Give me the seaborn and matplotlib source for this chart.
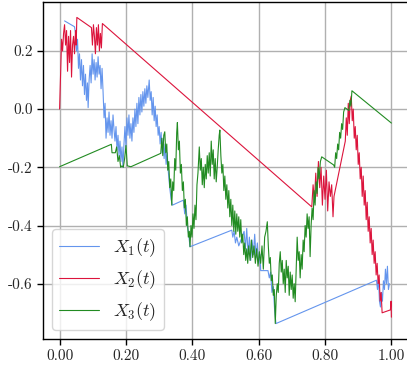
import matplotlib
matplotlib.use("Agg")
import matplotlib.pyplot as plt
from matplotlib.ticker import FormatStrFormatter, MultipleLocator
import pandas as pd
import seaborn as sns

# X_1(t): values (gaps are bridged by straight lines)
t1 = [0.015, 0.045, 0.048, 0.051, 0.054, 0.057, 0.060, 0.063, 0.066, 0.069, 0.072, 0.075,
      0.078, 0.081, 0.084, 0.086, 0.089, 0.092, 0.095, 0.098, 0.101, 0.104, 0.107, 0.110,
      0.113, 0.116, 0.119, 0.122, 0.125, 0.128, 0.131, 0.134, 0.137, 0.140, 0.143, 0.146,
      0.149, 0.152, 0.155, 0.158, 0.161, 0.164, 0.167, 0.170, 0.173, 0.176, 0.179, 0.182,
      0.185, 0.188, 0.191, 0.194, 0.197, 0.200, 0.203, 0.206, 0.209, 0.212, 0.215, 0.218,
      0.221, 0.224, 0.227, 0.230, 0.233, 0.236, 0.239, 0.242, 0.245, 0.248, 0.251, 0.254,
      0.257, 0.260, 0.263, 0.266, 0.270, 0.273, 0.276, 0.279, 0.282, 0.285, 0.288, 0.291,
      0.294, 0.297, 0.300, 0.303, 0.306, 0.309, 0.312, 0.315, 0.318, 0.321, 0.324, 0.328,
      0.332, 0.336, 0.340, 0.373, 0.377, 0.381, 0.385, 0.389, 0.393, 0.519, 0.522, 0.526,
      0.530, 0.534, 0.540, 0.556, 0.560, 0.564, 0.568, 0.572, 0.576, 0.580, 0.584, 0.588,
      0.592, 0.596, 0.600, 0.604, 0.606, 0.628, 0.632, 0.636, 0.640, 0.644, 0.648, 0.652,
      0.955, 0.958, 0.961, 0.964, 0.967, 0.970, 0.973, 0.976, 0.979, 0.982, 0.985, 0.988,
      0.991, 0.994]
x1 = [0.303, 0.283, 0.26, 0.20, 0.24, 0.14, 0.19, 0.10, 0.17, 0.08, 0.15, 0.05,
      0.12, 0.03, 0.09, 0.005, 0.10, 0.15, 0.09, 0.19, 0.12, 0.17, 0.10, 0.16,
      0.11, 0.18, 0.12, 0.15, 0.07, 0.14, 0.06, -0.03, 0.02, -0.10, -0.03, -0.08,
      -0.01, -0.09, -0.04, -0.10, -0.02, -0.07, -0.11, -0.06, -0.14, -0.09, -0.16, -0.11,
      -0.18, -0.13, -0.20, -0.12, -0.06, -0.13, -0.03, -0.09, -0.02, -0.10, -0.05, -0.11,
      -0.03, -0.08, 0.00, -0.06, 0.02, -0.05, 0.04, -0.02, 0.05, -0.01, 0.06, 0.01,
      0.07, 0.02, 0.08, 0.04, 0.10, 0.03, 0.06, -0.02, 0.04, -0.04, 0.01, -0.06,
      -0.02, -0.09, -0.06, -0.12, -0.08, -0.15, -0.10, -0.17, -0.12, -0.19, -0.15, -0.22,
      -0.27, -0.31, -0.33, -0.313, -0.36, -0.33, -0.40, -0.43, -0.473, -0.416, -0.44, -0.42,
      -0.46, -0.44, -0.47, -0.42, -0.48, -0.41, -0.50, -0.44, -0.52, -0.45, -0.50, -0.43,
      -0.51, -0.46, -0.53, -0.50, -0.555, -0.555, -0.58, -0.56, -0.63, -0.61, -0.69, -0.737,
      -0.588, -0.62, -0.58, -0.66, -0.68, -0.63, -0.66, -0.59, -0.62, -0.55, -0.60, -0.54,
      -0.62, -0.60]

# X_2(t)
t2 = [0.000, 0.003, 0.006, 0.009, 0.012, 0.015, 0.018, 0.021, 0.024, 0.027, 0.030, 0.033,
      0.036, 0.039, 0.042, 0.045, 0.048, 0.050, 0.052, 0.096, 0.099, 0.102, 0.105, 0.108,
      0.111, 0.114, 0.117, 0.120, 0.123, 0.126, 0.129, 0.760, 0.764, 0.768, 0.772, 0.776,
      0.780, 0.784, 0.788, 0.792, 0.796, 0.800, 0.804, 0.808, 0.812, 0.816, 0.820, 0.824,
      0.827, 0.861, 0.864, 0.867, 0.870, 0.873, 0.876, 0.879, 0.882, 0.885, 0.888, 0.891,
      0.894, 0.897, 0.900, 0.903, 0.906, 0.909, 0.912, 0.915, 0.918, 0.921, 0.924, 0.927,
      0.930, 0.933, 0.936, 0.939, 0.942, 0.945, 0.948, 0.951, 0.954, 0.957, 0.960, 0.963,
      0.966, 0.969, 0.972, 0.997, 0.999, 1.000]
x2 = [0.00, 0.12, 0.24, 0.20, 0.26, 0.29, 0.22, 0.27, 0.13, 0.25, 0.16, 0.27,
      0.11, 0.22, 0.25, 0.19, 0.27, 0.22, 0.315, 0.28, 0.22, 0.29, 0.25, 0.19,
      0.28, 0.22, 0.29, 0.20, 0.26, 0.21, 0.294, -0.336, -0.26, -0.32, -0.22, -0.30,
      -0.18, -0.27, -0.20, -0.33, -0.23, -0.31, -0.21, -0.35, -0.25, -0.30, -0.26, -0.37,
      -0.30, -0.11, -0.03, -0.09, 0.02, -0.05, 0.03, 0.045, -0.04, 0.00, -0.10, -0.06,
      -0.14, -0.09, -0.19, -0.15, -0.24, -0.20, -0.30, -0.23, -0.33, -0.28, -0.38, -0.32,
      -0.42, -0.37, -0.46, -0.41, -0.50, -0.45, -0.53, -0.49, -0.57, -0.53, -0.60, -0.57,
      -0.66, -0.63, -0.70, -0.69, -0.66, -0.715]

# X_3(t)
t3 = [0.000, 0.156, 0.158, 0.168, 0.172, 0.176, 0.180, 0.184, 0.188, 0.192, 0.196, 0.200,
      0.204, 0.215, 0.305, 0.308, 0.311, 0.314, 0.317, 0.320, 0.323, 0.326, 0.329, 0.332,
      0.335, 0.338, 0.341, 0.344, 0.347, 0.350, 0.353, 0.355, 0.358, 0.361, 0.364, 0.367,
      0.370, 0.373, 0.376, 0.379, 0.382, 0.385, 0.388, 0.391, 0.393, 0.396, 0.399, 0.402,
      0.405, 0.408, 0.411, 0.414, 0.417, 0.421, 0.424, 0.427, 0.430, 0.433, 0.436, 0.439,
      0.442, 0.445, 0.448, 0.451, 0.454, 0.457, 0.460, 0.463, 0.466, 0.469, 0.472, 0.475,
      0.478, 0.481, 0.483, 0.486, 0.489, 0.492, 0.495, 0.498, 0.501, 0.504, 0.507, 0.510,
      0.513, 0.516, 0.519, 0.522, 0.525, 0.528, 0.531, 0.534, 0.537, 0.540, 0.543, 0.546,
      0.549, 0.552, 0.555, 0.558, 0.561, 0.564, 0.567, 0.570, 0.574, 0.578, 0.582, 0.586,
      0.590, 0.594, 0.598, 0.602, 0.606, 0.610, 0.614, 0.618, 0.622, 0.626, 0.629, 0.632,
      0.635, 0.638, 0.641, 0.644, 0.647, 0.650, 0.653, 0.656, 0.659, 0.662, 0.665, 0.668,
      0.671, 0.674, 0.677, 0.680, 0.683, 0.686, 0.689, 0.692, 0.695, 0.698, 0.701, 0.704,
      0.707, 0.710, 0.713, 0.716, 0.719, 0.722, 0.725, 0.728, 0.731, 0.734, 0.737, 0.740,
      0.743, 0.746, 0.749, 0.752, 0.755, 0.758, 0.761, 0.764, 0.767, 0.770, 0.773, 0.776,
      0.779, 0.782, 0.786, 0.790, 0.826, 0.829, 0.832, 0.835, 0.838, 0.841, 0.844, 0.847,
      0.850, 0.853, 0.856, 0.860, 0.872, 0.875, 0.878, 0.881, 1.000]
x3 = [-0.198, -0.121, -0.150, -0.150, -0.13, -0.18, -0.16, -0.20, -0.195, -0.20, -0.17, -0.125,
      -0.195, -0.198, -0.152, -0.10, -0.16, -0.09, -0.078, -0.15, -0.12, -0.21, -0.18, -0.27,
      -0.24, -0.33, -0.25, -0.28, -0.17, -0.21, -0.08, -0.046, -0.14, -0.11, -0.22, -0.19,
      -0.28, -0.25, -0.34, -0.31, -0.40, -0.37, -0.44, -0.42, -0.473, -0.40, -0.44, -0.36,
      -0.41, -0.33, -0.38, -0.26, -0.22, -0.13, -0.21, -0.17, -0.26, -0.20, -0.27, -0.19,
      -0.24, -0.16, -0.22, -0.15, -0.23, -0.11, -0.19, -0.14, -0.24, -0.17, -0.25, -0.20,
      -0.14, -0.09, -0.072, -0.16, -0.22, -0.19, -0.28, -0.23, -0.31, -0.26, -0.34, -0.28,
      -0.37, -0.31, -0.40, -0.33, -0.42, -0.35, -0.43, -0.36, -0.42, -0.37, -0.44, -0.38,
      -0.46, -0.43, -0.50, -0.46, -0.52, -0.48, -0.53, -0.47, -0.52, -0.45, -0.51, -0.47,
      -0.53, -0.48, -0.54, -0.49, -0.53, -0.47, -0.55, -0.44, -0.42, -0.387, -0.47, -0.53,
      -0.51, -0.59, -0.57, -0.64, -0.62, -0.737, -0.64, -0.60, -0.63, -0.53, -0.49, -0.56,
      -0.52, -0.60, -0.55, -0.63, -0.52, -0.58, -0.54, -0.64, -0.56, -0.62, -0.57, -0.65,
      -0.60, -0.662, -0.55, -0.44, -0.52, -0.49, -0.58, -0.50, -0.55, -0.45, -0.49, -0.40,
      -0.44, -0.36, -0.41, -0.37, -0.507, -0.40, -0.34, -0.38, -0.28, -0.33, -0.25, -0.29,
      -0.20, -0.24, -0.18, -0.164, -0.192, -0.20, -0.15, -0.17, -0.12, -0.14, -0.08, -0.10,
      -0.05, -0.07, -0.01, 0.005, -0.005, 0.03, 0.01, 0.063, -0.048]

labels = ["$X_1(t)$", "$X_2(t)$", "$X_3(t)$"]
colors = ["cornflowerblue", "crimson", "forestgreen"]

sns.set_style("ticks")
plt.rcParams["font.family"] = "serif"
plt.rcParams["font.serif"] = ["cmr10"]
plt.rcParams["mathtext.fontset"] = "cm"
plt.rcParams["axes.unicode_minus"] = False

fig = plt.figure(figsize=(4.07, 3.71), dpi=100)
ax = fig.add_axes([43 / 407, 1 - 339 / 371, 365 / 407, 337 / 371])

for t, x, lab, col in zip([t1, t2, t3], [x1, x2, x3], labels, colors):
    df = pd.DataFrame({"t": t, "x": x})
    sns.lineplot(data=df, x="t", y="x", color=col, lw=0.8, estimator=None,
                 sort=True, label=lab, ax=ax)

ax.set_xlim(-0.05, 1.05)
ax.set_ylim(-0.79, 0.368)
ax.xaxis.set_major_locator(MultipleLocator(0.2))
ax.yaxis.set_major_locator(MultipleLocator(0.2))
ax.xaxis.set_major_formatter(FormatStrFormatter("%.2f"))
ax.yaxis.set_major_formatter(FormatStrFormatter("%.1f"))
ax.set_xlabel("")
ax.set_ylabel("")
ax.grid(True, color="#b0b0b0", lw=1.0)
ax.set_axisbelow(True)
ax.tick_params(labelsize=11, length=4, width=1, color="black")
for sp in ax.spines.values():
    sp.set_color("black")
    sp.set_linewidth(1.0)
ax.spines["right"].set_visible(False)
ax.legend(loc="lower left", fontsize=13, handlelength=2.2)

fig.savefig("out.png", dpi=100)
